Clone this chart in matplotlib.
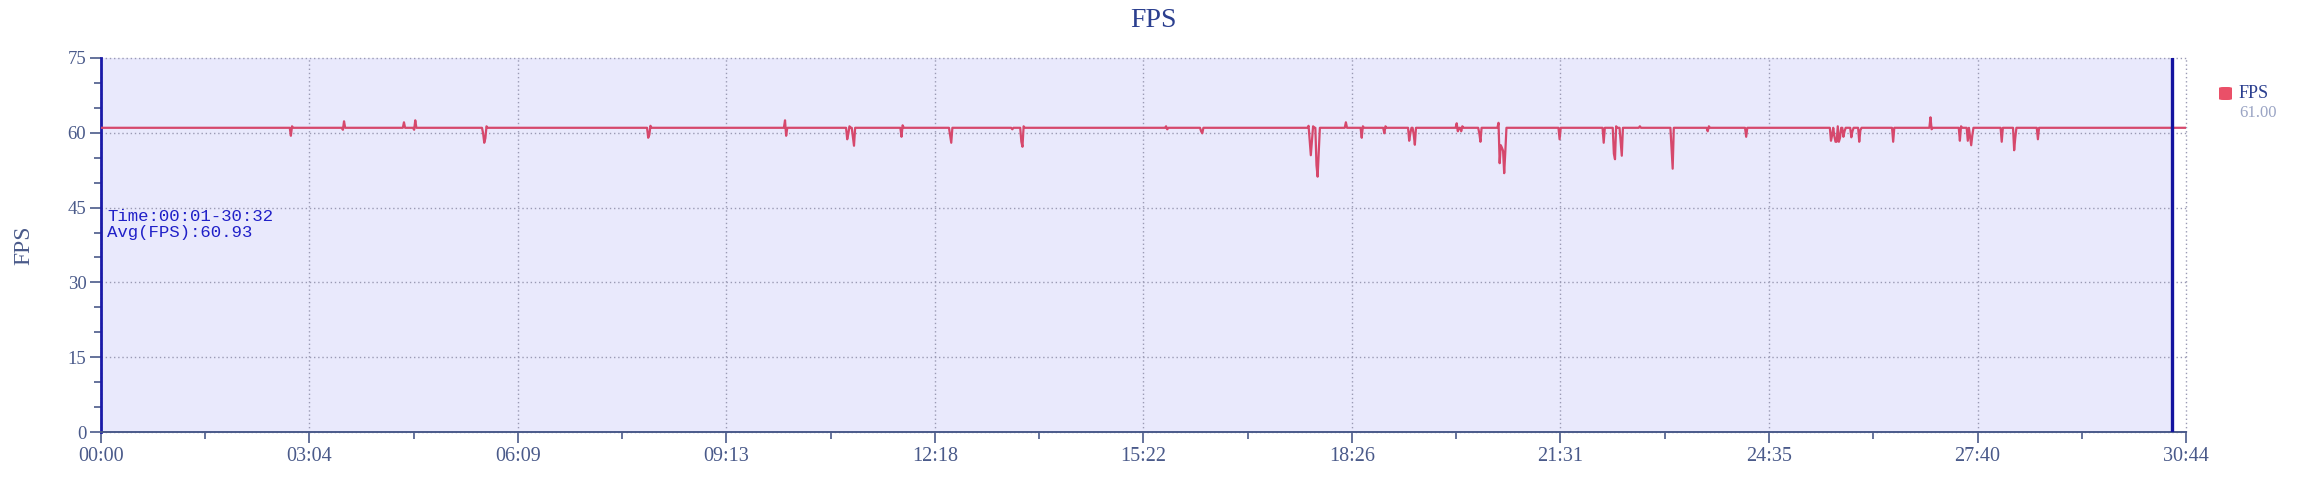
import numpy as np
import matplotlib
matplotlib.use("Agg")
import matplotlib.pyplot as plt
from matplotlib.patches import FancyBboxPatch

# ---- data (seconds since start, FPS) ----
total_secs = 1844          # axis end 30:44
end_secs = 1832            # last sample 30:32
base_fps = 61.0
# deviations from the 61 fps baseline
events = [
    (168, 59.4), (169, 61.3),
    (214, 60.6), (215, 62.3),
    (268, 62.1),
    (277, 60.6), (278, 62.5),
    (338, 59.9), (339, 58.0), (340, 58.9), (341, 61.3),
    (484, 59.0), (485, 59.6), (486, 61.4),
    (605, 62.5), (606, 59.4),
    (660, 58.7), (661, 59.8), (662, 61.3), (665, 59.2), (666, 57.4),
    (708, 59.2), (709, 61.5),
    (751, 59.5), (752, 58.0),
    (806, 60.7),
    (814, 58.2), (815, 57.2), (816, 61.3),
    (942, 61.3), (943, 60.7),
    (973, 60.3), (974, 59.9),
    (1068, 61.4), (1069, 58.5), (1070, 55.5), (1071, 58.5), (1072, 61.3),
    (1075, 53.5), (1076, 51.2), (1077, 56.0),
    (1101, 62.1),
    (1115, 59.0), (1116, 61.3),
    (1135, 59.9), (1136, 61.3),
    (1157, 58.4), (1158, 59.9), (1161, 59.6), (1162, 57.6),
    (1199, 61.9), (1200, 60.3), (1203, 60.3), (1204, 61.3),
    (1219, 59.9), (1220, 58.2),
    (1236, 62.0), (1237, 53.9), (1238, 57.5), (1239, 57.0), (1240, 56.4),
    (1241, 51.9), (1242, 56.2),
    (1290, 58.7),
    (1329, 58.0),
    (1338, 55.8), (1339, 54.7), (1340, 61.3),
    (1344, 58.2), (1345, 55.4),
    (1361, 61.3),
    (1389, 56.7), (1390, 52.8),
    (1421, 60.3), (1422, 61.3),
    (1455, 59.2),
    (1530, 58.4), (1531, 59.5), (1533, 59.3), (1534, 58.2), (1535, 58.2),
    (1536, 61.3), (1537, 58.2), (1538, 59.0), (1541, 59.2), (1542, 60.3),
    (1548, 59.1), (1549, 60.3), (1555, 58.2), (1556, 60.5),
    (1585, 58.2),
    (1618, 63.1), (1619, 60.7),
    (1644, 58.4), (1645, 61.3),
    (1651, 58.4), (1653, 59.2), (1654, 57.5), (1655, 59.5),
    (1681, 58.2),
    (1692, 56.5), (1693, 59.0),
    (1713, 58.7),
]
xtick_labels = ['00:00', '03:04', '06:09', '09:13', '12:18', '15:22',
                '18:26', '21:31', '24:35', '27:40', '30:44']
ytick_values = [0, 15, 30, 45, 60, 75]
avg_fps = 60.93

secs = np.arange(1, total_secs + 1)
fps = np.full(len(secs), base_fps)
for t, v in events:
    fps[t - 1] = v

# ---- style ----
serif = ['Liberation Serif', 'DejaVu Serif']
tick_col = '#4a5a8a'
line_col = '#d6486c'

fig = plt.figure(figsize=(23.04, 4.93), dpi=100)
ax = fig.add_axes([0.0438, 0.1237, 0.9050, 0.7587])

ax.axvspan(0, end_secs, color='#e9e9fc', zorder=0, lw=0)
ax.plot(secs, fps, color=line_col, lw=1.6, zorder=3)
ax.axvline(end_secs, color='#1414a0', lw=2.4, zorder=4)

ax.set_xlim(0, total_secs)
ax.set_ylim(0, 75)
ax.set_xticks(np.linspace(0, total_secs, len(xtick_labels)))
ax.set_xticklabels(xtick_labels)
ax.set_xticks(np.linspace(0, total_secs, 2 * len(xtick_labels) - 1), minor=True)
ax.set_yticks(ytick_values)
ax.set_yticks(np.arange(0, 76, 5), minor=True)

ax.grid(True, which='major', color='#9a9ab4', ls=(0, (1, 2)), lw=1, zorder=1)
for gl in ax.get_xgridlines() + ax.get_ygridlines():
    gl.set_clip_on(False)

for s in ['top', 'right']:
    ax.spines[s].set_visible(False)
ax.spines['left'].set_color('#1a1aa8')
ax.spines['left'].set_linewidth(2)
ax.spines['bottom'].set_color(tick_col)
ax.spines['bottom'].set_linewidth(1.4)

ax.tick_params(which='major', length=8, width=1.2, colors=tick_col, pad=2.5)
ax.tick_params(axis='x', labelsize=14.5)
ax.tick_params(axis='y', labelsize=13.5)
ax.tick_params(which='minor', length=5, width=1.2, colors=tick_col)
for lab in ax.get_xticklabels() + ax.get_yticklabels():
    lab.set_family(serif)

ax.set_ylabel('FPS', fontsize=17, color=tick_col, family=serif, labelpad=24)
fig.text(0.5005, 0.958, 'FPS', ha='center', va='center', fontsize=20,
         color='#2b3f8f', family=serif)

ax.text(0.003, 0.595, 'Time:00:01-30:32\nAvg(FPS):%.2f' % avg_fps,
        transform=ax.transAxes, ha='left', va='top', fontsize=12.5,
        color='#2020c8', family=['Liberation Mono', 'DejaVu Sans Mono'],
        linespacing=1.05, zorder=5)

# legend block on the right
box = FancyBboxPatch((2219 / 2304, 1 - 100 / 493), 13 / 2304, 13 / 493,
                     boxstyle='round,pad=0,rounding_size=0.002',
                     transform=fig.transFigure, color='#ea5068', lw=0)
fig.patches.append(box)
fig.text(2239 / 2304, 1 - 93 / 493, 'FPS', ha='left', va='center',
         fontsize=13, color='#2b3f8f', family=serif)
fig.text(2239 / 2304, 1 - 113 / 493, '%.2f' % base_fps, ha='left', va='center',
         fontsize=12, color='#9aa4c4', family=serif)

fig.savefig('out.png', dpi=100)
